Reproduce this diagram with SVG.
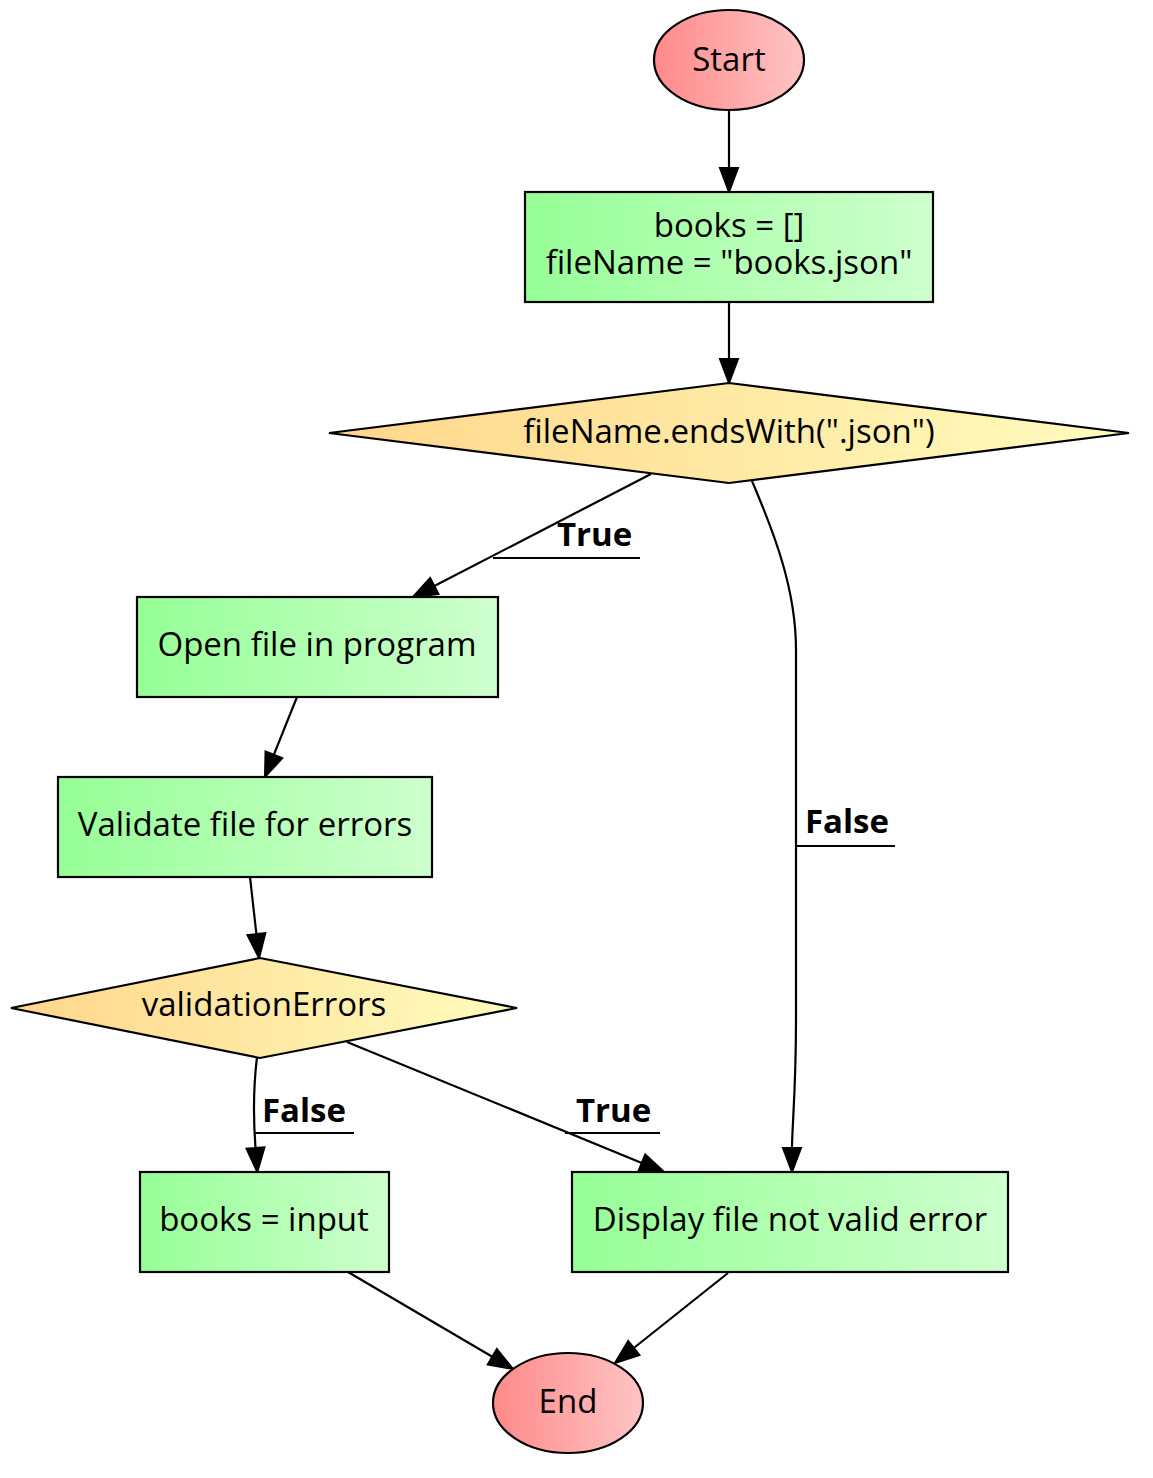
<svg xmlns="http://www.w3.org/2000/svg" width="1153" height="1478" viewBox="0 0 1153 1478">
<defs>
<linearGradient id="gRed" x1="0" y1="0" x2="1" y2="0"><stop offset="0" stop-color="#ff8a8a"/><stop offset="1" stop-color="#ffc4c4"/></linearGradient>
<linearGradient id="gGreen" x1="0" y1="0" x2="1" y2="0"><stop offset="0" stop-color="#96ff96"/><stop offset="1" stop-color="#ceffce"/></linearGradient>
<linearGradient id="gYellow" x1="0" y1="0" x2="1" y2="0"><stop offset="0" stop-color="#ffd68a"/><stop offset="1" stop-color="#fffcbe"/></linearGradient>
<marker id="arr" markerUnits="userSpaceOnUse" markerWidth="26" markerHeight="20" refX="0" refY="10" orient="auto" viewBox="0 0 26 20" overflow="visible"><path d="M0,1 L24,10 L0,19 Z" fill="#000" stroke="#000" stroke-width="2"/></marker>
<style>
.n{stroke:#000;stroke-width:2.2}
.t{font-family:"Open Sans","Noto Sans","DejaVu Sans",sans-serif;font-size:33px;fill:#000;text-anchor:middle}
.lb{font-family:"Open Sans","Noto Sans","DejaVu Sans",sans-serif;font-size:33px;font-weight:bold;fill:#000}
.e{fill:none;stroke:#000;stroke-width:2.2;marker-end:url(#arr)}
.u{stroke:#000;stroke-width:2.2}
</style>
</defs>
<rect width="1153" height="1478" fill="#fff"/>
<g id="connectors">
<path class="e" d="M729,110 L729,168"/>
<path class="e" d="M729,302 L729,359"/>
<path class="e" d="M651,474 L434.3,586"/>
<path class="e" d="M752,481 C775,535 796,590 796,650 L796,1020 C796,1090 792,1128 792,1148"/>
<path class="e" d="M297,697 L273.9,754.7"/>
<path class="e" d="M250,877 L256.4,934.1"/>
<path class="e" d="M257,1057 C253,1090 253,1115 255.5,1148"/>
<path class="e" d="M347,1042 L641.8,1162.9"/>
<path class="e" d="M348,1272 L492.3,1356.8"/>
<path class="e" d="M728,1273 L633.8,1348"/>
<g id="label-true-1"><text class="lb" x="557" y="546">True</text><line class="u" x1="493" y1="558" x2="640" y2="558"/></g>
<g id="label-false-1"><text class="lb" x="805" y="833">False</text><line class="u" x1="796" y1="846" x2="895" y2="846"/></g>
<g id="label-false-2"><text class="lb" x="262" y="1122">False</text><line class="u" x1="255" y1="1133" x2="354" y2="1133"/></g>
<g id="label-true-2"><text class="lb" x="576" y="1122">True</text><line class="u" x1="565" y1="1133" x2="660" y2="1133"/></g>
</g>
<g id="start"><ellipse class="n" cx="729" cy="60" rx="75" ry="50" fill="url(#gRed)"/><text class="t" x="729" y="71">Start</text></g>
<g id="init"><rect class="n" x="525" y="192" width="408" height="110" fill="url(#gGreen)"/><text class="t" x="729" y="237">books = []</text><text class="t" x="729" y="274">fileName = "books.json"</text></g>
<g id="check-ext"><polygon class="n" points="729,383 1129,433 729,483 329,433" fill="url(#gYellow)"/><text class="t" x="729" y="443">fileName.endsWith(".json")</text></g>
<g id="open-file"><rect class="n" x="137" y="597" width="361" height="100" fill="url(#gGreen)"/><text class="t" x="317" y="656">Open file in program</text></g>
<g id="validate"><rect class="n" x="58" y="777" width="374" height="100" fill="url(#gGreen)"/><text class="t" x="245" y="836">Validate file for errors</text></g>
<g id="validation-errors"><polygon class="n" points="260,958 517,1008 260,1058 11,1008" fill="url(#gYellow)"/><text class="t" x="264" y="1016">validationErrors</text></g>
<g id="books-input"><rect class="n" x="140" y="1172" width="249" height="100" fill="url(#gGreen)"/><text class="t" x="264" y="1231">books = input</text></g>
<g id="display-error"><rect class="n" x="572" y="1172" width="436" height="100" fill="url(#gGreen)"/><text class="t" x="790" y="1231">Display file not valid error</text></g>
<g id="end"><ellipse class="n" cx="568" cy="1403" rx="75" ry="50" fill="url(#gRed)"/><text class="t" x="568" y="1413">End</text></g>
</svg>
